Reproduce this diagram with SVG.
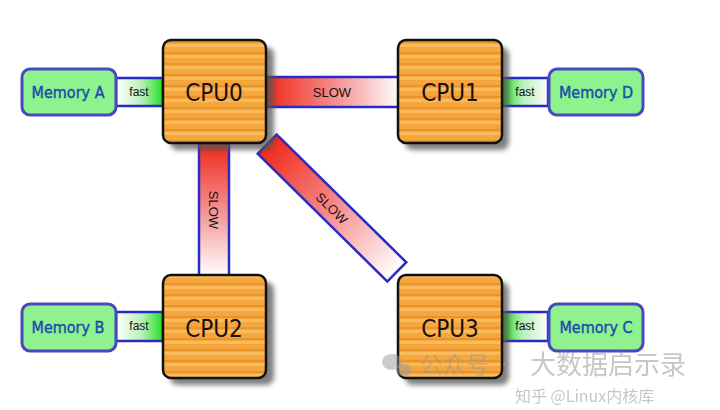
<svg xmlns="http://www.w3.org/2000/svg" width="720" height="410" viewBox="0 0 720 410">
<defs>
<pattern id="stripes" patternUnits="userSpaceOnUse" width="104" height="11">
<rect width="104" height="11" fill="#f5a63c"/>
<rect y="0" width="104" height="3" fill="#f9bb5c"/>
<rect y="8" width="104" height="2" fill="#e9952c"/>
</pattern>
<linearGradient id="fastL" x1="0" y1="0" x2="1" y2="0"><stop offset="0" stop-color="#ffffff"/><stop offset="0.55" stop-color="#b8f0b8"/><stop offset="1" stop-color="#22e022"/></linearGradient>
<linearGradient id="fastR" x1="0" y1="0" x2="1" y2="0"><stop offset="0" stop-color="#22e022"/><stop offset="0.45" stop-color="#b8f0b8"/><stop offset="1" stop-color="#ffffff"/></linearGradient>
<linearGradient id="slowH" x1="0" y1="0" x2="1" y2="0"><stop offset="0" stop-color="#f02818"/><stop offset="0.5" stop-color="#f68a8a"/><stop offset="1" stop-color="#ffffff"/></linearGradient>
<linearGradient id="slowV" x1="0" y1="0" x2="0" y2="1"><stop offset="0" stop-color="#f02818"/><stop offset="0.55" stop-color="#f49a9a"/><stop offset="1" stop-color="#ffffff"/></linearGradient>
<filter id="shadow" x="-20%" y="-20%" width="150%" height="150%"><feGaussianBlur stdDeviation="2.5"/></filter>
</defs>
<style>
.cpu{fill:url(#stripes);stroke:#111;stroke-width:2.5}
.shadow{fill:#555;opacity:0.75;filter:url(#shadow)}
.cpuText{font-family:"DejaVu Sans Condensed","DejaVu Sans",sans-serif;font-size:24px;fill:#1a1010;text-anchor:middle}
.mem{fill:#8ef28e;stroke:#4848c0;stroke-width:3}
.memText{font-family:"DejaVu Sans Condensed","DejaVu Sans",sans-serif;font-size:16px;fill:#1a4ea8;stroke:#1a4ea8;stroke-width:0.4;text-anchor:middle}
.link{stroke:#2a2ac8;stroke-width:2.5}
.lbl{font-family:"Liberation Sans",Arial,sans-serif;font-size:12px;fill:#111;text-anchor:middle}
.slow{font-size:13px}
.wm{font-family:"Noto Sans CJK SC","Liberation Sans",sans-serif;fill:#999;opacity:0.55;text-anchor:start}
</style>
<g id="connectors">
<g id="link-a"><rect class="link" x="116" y="78" width="47" height="28" fill="url(#fastL)"/><text class="lbl" x="139" y="96">fast</text></g>
<g id="link-d"><rect class="link" x="502" y="78" width="46" height="28" fill="url(#fastR)"/><text class="lbl" x="525" y="96">fast</text></g>
<g id="link-b"><rect class="link" x="116" y="312" width="47" height="29" fill="url(#fastL)"/><text class="lbl" x="139" y="330">fast</text></g>
<g id="link-c"><rect class="link" x="502" y="312" width="46" height="29" fill="url(#fastR)"/><text class="lbl" x="525" y="330">fast</text></g>
<g id="slow-01"><rect class="link" x="266" y="77" width="134" height="30" fill="url(#slowH)"/><text class="lbl slow" x="332" y="97">SLOW</text></g>
<g id="slow-02"><rect class="link" x="199" y="143" width="30" height="133" fill="url(#slowV)"/><text class="lbl slow" transform="translate(214 210) rotate(90)" x="0" y="5">SLOW</text></g>
<g id="slow-03" transform="translate(332 208) rotate(44.6)"><rect class="link" x="-91" y="-13.5" width="182" height="27" fill="url(#slowH)"/><text class="lbl slow" x="0" y="5">SLOW</text></g>
</g>
<g id="cpu0"><rect class="shadow" x="170" y="47" width="104" height="103" rx="8"/><rect class="cpu" x="163" y="40" width="103" height="103" rx="8"/><text class="cpuText" x="214" y="101">CPU0</text></g>
<g id="cpu1"><rect class="shadow" x="405" y="47" width="104" height="103" rx="8"/><rect class="cpu" x="398" y="40" width="104" height="103" rx="8"/><text class="cpuText" x="450" y="101">CPU1</text></g>
<g id="cpu2"><rect class="shadow" x="170" y="282" width="104" height="103" rx="8"/><rect class="cpu" x="163" y="275" width="103" height="103" rx="8"/><text class="cpuText" x="214" y="337">CPU2</text></g>
<g id="cpu3"><rect class="shadow" x="405" y="282" width="104" height="103" rx="8"/><rect class="cpu" x="398" y="275" width="104" height="103" rx="8"/><text class="cpuText" x="450" y="337">CPU3</text></g>
<g id="memA"><rect class="mem" x="22" y="69" width="94" height="46" rx="8"/><text class="memText" x="68" y="98">Memory A</text></g>
<g id="memD"><rect class="mem" x="549" y="69" width="94" height="46" rx="8"/><text class="memText" x="596" y="98">Memory D</text></g>
<g id="memB"><rect class="mem" x="22" y="304" width="94" height="47" rx="8"/><text class="memText" x="68" y="333">Memory B</text></g>
<g id="memC"><rect class="mem" x="549" y="304" width="94" height="47" rx="8"/><text class="memText" x="596" y="333">Memory C</text></g>
<g id="watermark">
<ellipse cx="392" cy="362" rx="10" ry="8" fill="#999" opacity="0.5"/><ellipse cx="404" cy="370" rx="8" ry="6.5" fill="#999" opacity="0.5"/>
<text class="wm" x="420" y="373" font-size="23">公众号 ·</text>
<text class="wm" x="530" y="374" font-size="26">大数据启示录</text>
<text class="wm" x="515" y="402" font-size="16">知乎 @Linux内核库</text>
</g>
</svg>
